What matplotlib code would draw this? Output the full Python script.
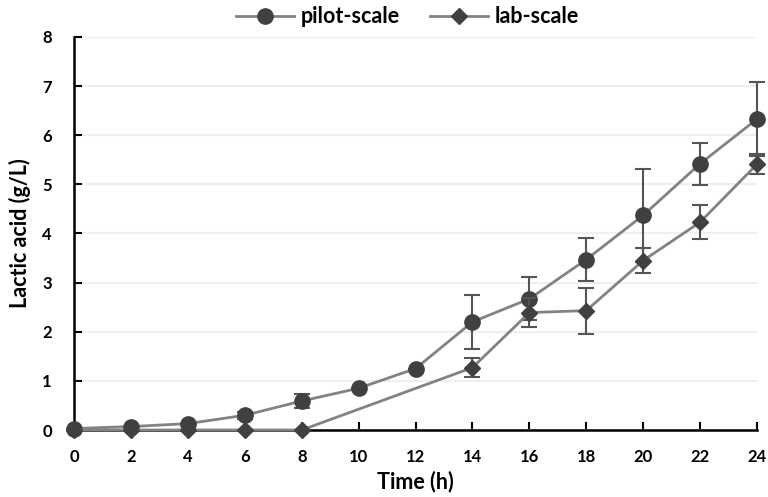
import matplotlib
matplotlib.use("Agg")
import matplotlib.pyplot as plt
from matplotlib.lines import Line2D

# Fermentation time (h)
time_h = [0, 2, 4, 6, 8, 10, 12, 14, 16, 18, 20, 22, 24]
pilot_mean = [0.03, 0.07, 0.13, 0.30, 0.59, 0.85, 1.25, 2.20, 2.67, 3.47, 4.37, 5.42, 6.33]
pilot_err = [0.0, 0.0, 0.0, 0.07, 0.15, 0.0, 0.0, 0.55, 0.44, 0.44, 0.95, 0.43, 0.75]

lab_time = [0, 2, 4, 6, 8, 14, 16, 18, 20, 22, 24]
lab_mean = [0.0, 0.0, 0.0, 0.0, 0.0, 1.27, 2.39, 2.43, 3.45, 4.23, 5.41]
lab_err = [0.0, 0.0, 0.0, 0.0, 0.0, 0.20, 0.29, 0.47, 0.25, 0.35, 0.20]

x_ticks = list(range(0, 25, 2))
y_ticks = list(range(0, 9))

plt.rcParams["font.family"] = ["Lato", "DejaVu Sans"]
plt.rcParams["font.weight"] = "bold"

fig = plt.figure(figsize=(7.68, 4.97), dpi=100)
ax = fig.add_axes([0.0964, 0.1348, 0.8893, 0.7908])

line_col = "#828282"
mark_col = "#404040"

ax.errorbar(time_h, pilot_mean, yerr=pilot_err, color=line_col, lw=2,
            marker="o", ms=11, mfc=mark_col, mec=mark_col,
            ecolor="#555555", elinewidth=1.5, capsize=6, capthick=1.5,
            clip_on=False, zorder=3)
ax.errorbar(lab_time, lab_mean, yerr=lab_err, color=line_col, lw=2,
            marker="D", ms=8, mfc=mark_col, mec=mark_col,
            ecolor="#555555", elinewidth=1.5, capsize=6, capthick=1.5,
            clip_on=False, zorder=4)

ax.set_xlim(0, 24)
ax.set_ylim(0, 8)
ax.set_xticks(x_ticks)
ax.set_yticks(y_ticks)
ax.grid(axis="y", color="#efefef", lw=1.5, zorder=0)
ax.set_axisbelow(True)
for s in ("top", "right"):
    ax.spines[s].set_visible(False)
for s in ("left", "bottom"):
    ax.spines[s].set_linewidth(1.8)
    ax.spines[s].set_color("black")
ax.tick_params(direction="in", length=6, width=1.5, labelsize=12)
ax.tick_params(axis="x", pad=14)
ax.tick_params(axis="y", pad=16)
for lbl in ax.get_xticklabels() + ax.get_yticklabels():
    lbl.set_fontweight("bold")

ax.set_xlabel("Time (h)", fontsize=15.5, fontweight="bold", labelpad=4)
ax.set_ylabel("Lactic acid (g/L)", fontsize=15.5, fontweight="bold", labelpad=8)

handles = [
    Line2D([], [], color=line_col, lw=2, marker="o", ms=11, mfc=mark_col, mec=mark_col),
    Line2D([], [], color=line_col, lw=2, marker="D", ms=8, mfc=mark_col, mec=mark_col),
]
fig.legend(handles, ["pilot-scale", "lab-scale"], loc="center",
           bbox_to_anchor=(0.53, 0.966), ncol=2, frameon=False,
           handlelength=2.7, columnspacing=1.4, handletextpad=0.3,
           prop={"weight": "bold", "size": 15.5})

fig.savefig("out.png", dpi=100)
